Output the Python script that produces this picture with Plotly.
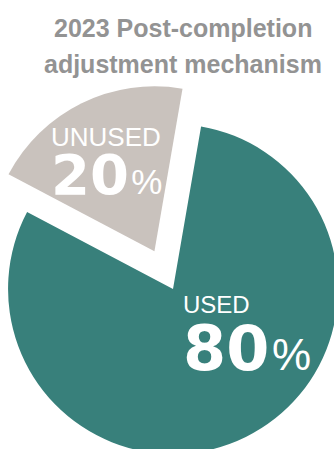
import plotly.graph_objects as go

# ---- data ----
labels = ["USED", "UNUSED"]
values = [80, 20]
colors = ["#38807b", "#c9c2bd"]
title_lines = ["2023 Post-completion", "adjustment mechanism"]

# ---- canvas (figure is shifted left so the pie can bleed off the edges) ----
W, H = 420, 500
SHIFT = 40  # px the figure is moved left in the page


def px(x):  # screen x -> paper x
    return (x + SHIFT) / W


def py(y):  # screen y -> paper y
    return 1 - y / H


cx, cy, half = 173 + SHIFT, 289, 207  # pie box centre / half-size (figure px)

fig = go.Figure(
    go.Pie(
        labels=labels,
        values=values,
        sort=False,
        direction="clockwise",
        rotation=9.8,
        pull=[0, 0.255],
        marker=dict(colors=colors, line=dict(width=0)),
        textinfo="none",
        hoverinfo="skip",
        showlegend=False,
        domain=dict(x=[(cx - half) / W, (cx + half) / W],
                    y=[1 - (cy + half) / H, 1 - (cy - half) / H]),
    )
)

TF = "Liberation Sans, Arial, sans-serif"


def label_text(name, v, s_name, s_big, s_pct, gap):
    return ("<span style=\"font-size:%dpx\">%s</span><br>"
            "<span style=\"font-family:DejaVu Sans, sans-serif;font-size:%dpx\"><b>%d</b></span>"
            "<span style=\"font-size:%dpx\"> </span>"
            "<span style=\"font-size:%dpx\">%%</span>" % (s_name, name, s_big, v, gap, s_pct))


ann = []
# title
ann.append(dict(x=px(183), y=py(28), text="<b>%s</b>" % title_lines[0],
                font=dict(family=TF, size=25, color="#939393")))
ann.append(dict(x=px(183), y=py(64), text="<b>%s</b>" % title_lines[1],
                font=dict(family=TF, size=25, color="#939393")))
# slice labels (name + value in one text block)
ann.append(dict(x=px(49), y=py(164.5), xanchor="left", align="left",
                text=label_text(labels[1], values[1], 26, 56, 35, 8),
                font=dict(family=TF, size=37, color="white")))
ann.append(dict(x=px(181), y=py(338), xanchor="left", align="left",
                text=label_text(labels[0], values[0], 24, 62, 44, 10),
                font=dict(family=TF, size=44, color="white")))
for a in ann:
    a.update(xref="paper", yref="paper", showarrow=False)
    a.setdefault("xanchor", "center")
    a.setdefault("yanchor", "middle")

fig.update_layout(
    width=W, height=H, autosize=False,
    margin=dict(l=0, r=0, t=0, b=0),
    paper_bgcolor="white", plot_bgcolor="white",
    annotations=ann,
)

post = (
    "document.documentElement.style.overflow='hidden';"
    "document.body.style.overflow='hidden';"
    "document.body.style.margin='0';"
    "var g=document.getElementById('{plot_id}');"
    "g.style.position='absolute';g.style.left='-%dpx';g.style.top='0px';" % SHIFT
)
fig.write_html("out.html", post_script=post)
